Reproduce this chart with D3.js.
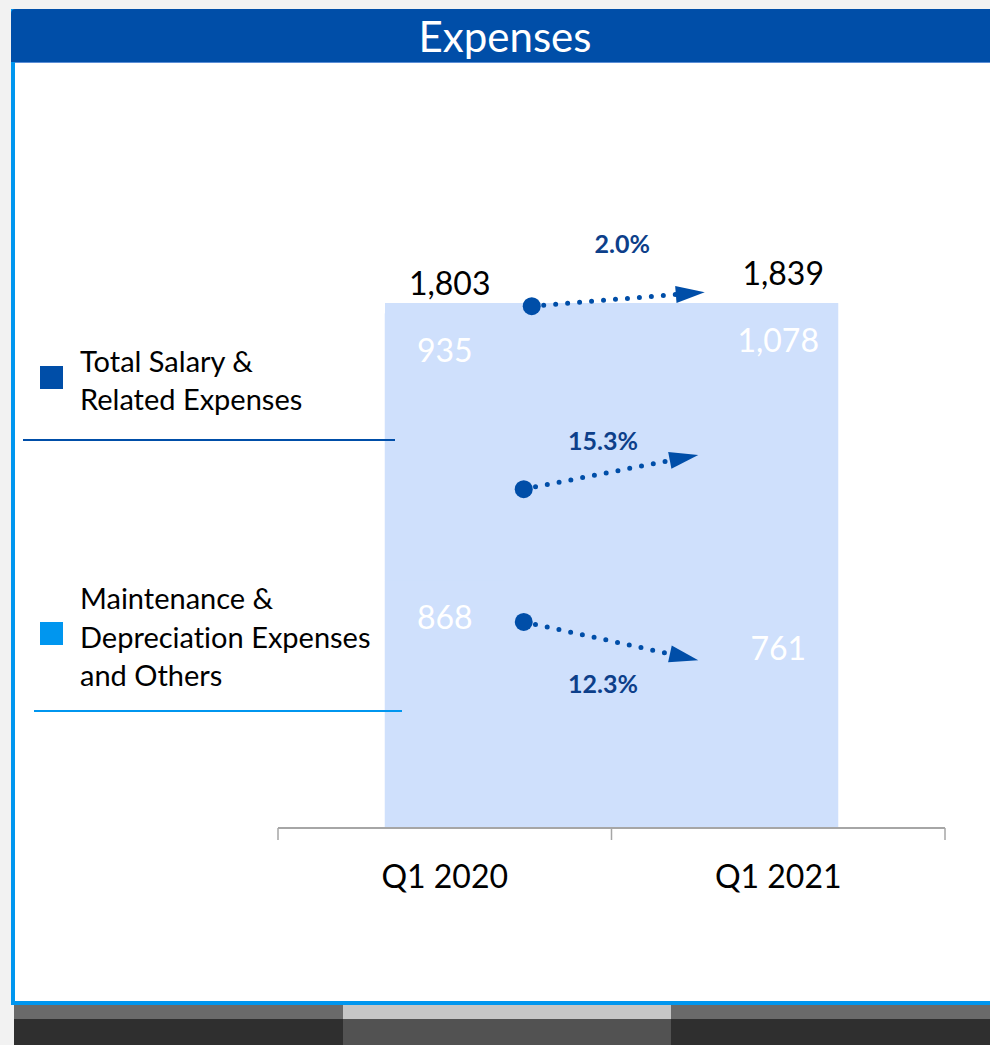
<!DOCTYPE html>
<html>
<head>
<meta charset="utf-8">
<script src="https://cdn.jsdelivr.net/npm/d3@7"></script>
<style>
  body { margin: 0; background: #f2f2f2; }
  svg { display: block; font-family: Lato, "Open Sans", sans-serif; font-variant-ligatures: none; }
</style>
</head>
<body>
<svg width="990" height="1045"></svg>
<script>
// chart values
const categories = ["Q1 2020", "Q1 2021"];
const salary = [935, 1078];
const maintenance = [868, 761];
const totals = [1803, 1839];
const changes = ["2.0%", "15.3%", "12.3%"];
const legendLines = [["Total Salary &", "Related Expenses"], ["Maintenance &", "Depreciation Expenses", "and Others"]];
// arrow ends, in the same units as the values
const arrowFrom = [1828, 1187, 722];
const arrowTo = [1877, 1307, 588];

function main(){
  const svg = d3.select("svg");
  const dark = "#004ea8", light = "#0096ef", fillBar = "#cfe0fc";

  draw_frame(svg, dark, light);

  const [xScale, yScale] = get_scales();
  const bw = xScale.bandwidth();
  const inset = 107;

  // one pale block behind both bars
  svg.append("rect")
    .attr("x", xScale(categories[0]) + inset)
    .attr("y", yScale(d3.max(totals)))
    .attr("width", xScale(categories[1]) + bw - inset - (xScale(categories[0]) + inset))
    .attr("height", yScale(0) - yScale(d3.max(totals)))
    .attr("fill", fillBar);

  const rows = categories.map((c, i) => ({cat: c, maintenance: maintenance[i], salary: salary[i]}));
  const stack = d3.stack().keys(["maintenance", "salary"])(rows);

  const layers = svg.selectAll("g.layer").data(stack).enter().append("g").attr("class", "layer");
  layers.selectAll("rect").data(d => d).enter().append("rect")
    .attr("x", d => xScale(d.data.cat) + bw / 2 - 60)
    .attr("width", 120)
    .attr("y", d => yScale(d[1]))
    .attr("height", d => yScale(d[0]) - yScale(d[1]))
    .attr("fill", fillBar);

  // segment values, white, near the top of each segment
  layers.selectAll("text").data(d => d).enter().append("text")
    .attr("x", d => xScale(d.data.cat) + bw / 2)
    .attr("y", d => yScale(d[1]) + 49)
    .attr("text-anchor", "middle")
    .attr("font-size", 32)
    .attr("fill", "#ffffff")
    .text(d => d3.format(",")(d[1] - d[0]));

  // totals
  svg.selectAll("text.total").data(totals).enter().append("text")
    .attr("class", "total")
    .attr("x", (d, i) => xScale(categories[i]) + bw / 2 + 5)
    .attr("y", d => yScale(d) - 18)
    .attr("text-anchor", "middle")
    .attr("font-size", 32)
    .attr("fill", "#000")
    .text(d => d3.format(",")(d));

  // x axis
  const axis = svg.append("g").attr("transform", `translate(0, ${yScale(0)})`);
  axis.append("line").attr("x1", xScale.range()[0]).attr("x2", xScale.range()[1])
    .attr("stroke", "#a6a6a6").attr("stroke-width", 2);
  const tickXs = [xScale(categories[0]), xScale(categories[1]), xScale(categories[1]) + bw];
  axis.selectAll("line.tick").data(tickXs).enter().append("line")
    .attr("class", "tick").attr("x1", d => d).attr("x2", d => d).attr("y1", 0).attr("y2", 12)
    .attr("stroke", "#a6a6a6").attr("stroke-width", 1.5);
  axis.selectAll("text").data(categories).enter().append("text")
    .attr("x", d => xScale(d) + bw / 2)
    .attr("y", 60)
    .attr("text-anchor", "middle")
    .attr("font-size", 32)
    .attr("fill", "#000")
    .text(d => d);

  draw_arrows(svg, xScale, yScale, dark);
  draw_legend(svg, dark, light);
}

function get_scales(){
  const xScale = d3.scaleBand().domain(categories).range([278, 945]).padding(0);
  const yScale = d3.scaleLinear().domain([0, d3.max(totals)]).range([828, 303]);
  return [xScale, yScale];
}

function draw_frame(svg, dark, light){
  // panel with blue border on left and bottom
  svg.append("rect").attr("x", 11).attr("y", 9).attr("width", 985).attr("height", 996).attr("fill", light);
  svg.append("rect").attr("x", 15).attr("y", 62).attr("width", 980).attr("height", 939).attr("fill", "#fff");
  svg.append("path")
    .attr("d", "M11,62 L11,14 Q11,9 16,9 L990,9 L990,62 Z")
    .attr("fill", dark);
  svg.append("line").attr("x1", 15).attr("x2", 990).attr("y1", 62.5).attr("y2", 62.5)
    .attr("stroke", "#5b8ed6").attr("stroke-width", 1);
  svg.append("text").attr("x", 505).attr("y", 52).attr("text-anchor", "middle")
    .attr("font-size", 42).attr("fill", "#fff").text("Expenses");

  // strip at the bottom of the page
  svg.append("rect").attr("x", 14).attr("y", 1005).attr("width", 976).attr("height", 14).attr("fill", "#6a6a6a");
  svg.append("rect").attr("x", 14).attr("y", 1019).attr("width", 976).attr("height", 26).attr("fill", "#2f2f2f");
  svg.append("rect").attr("x", 343).attr("y", 1005).attr("width", 328).attr("height", 14).attr("fill", "#c6c6c6");
  svg.append("rect").attr("x", 343).attr("y", 1019).attr("width", 328).attr("height", 26).attr("fill", "#525252");
}

function draw_arrows(svg, xScale, yScale, dark){
  const bw = xScale.bandwidth();
  const x0 = [87, 79, 79], x1 = [-73.5, -80, -80];
  const labelDy = [-46, -22, 52];
  const g = svg.append("g");

  changes.forEach((c, i) => {
    const sx = xScale(categories[0]) + bw / 2 + x0[i];
    const sy = yScale(arrowFrom[i]);
    const ex = xScale(categories[1]) + bw / 2 + x1[i];
    const ey = yScale(arrowTo[i]);
    const ang = Math.atan2(ey - sy, ex - sx);
    const headL = 29, headW = 8.5;
    const bx = ex - headL * Math.cos(ang), by = ey - headL * Math.sin(ang);

    g.append("line").attr("x1", sx).attr("y1", sy).attr("x2", bx).attr("y2", by)
      .attr("stroke", dark).attr("stroke-width", 5).attr("stroke-linecap", "round")
      .attr("stroke-dasharray", "0 12");
    g.append("circle").attr("cx", sx).attr("cy", sy).attr("r", 9).attr("fill", dark);
    const px = -Math.sin(ang), py = Math.cos(ang);
    g.append("polygon")
      .attr("points", [[ex, ey], [bx + px * headW, by + py * headW], [bx - px * headW, by - py * headW]].map(p => p.join(",")).join(" "))
      .attr("fill", dark);

    g.append("text")
      .attr("x", (sx + ex) / 2 + 4 - (i > 0 ? 12 : 0))
      .attr("y", (sy + ey) / 2 + labelDy[i])
      .attr("text-anchor", "middle")
      .attr("font-size", 25).attr("font-weight", "bold")
      .attr("fill", "#0d3f8a")
      .text(c);
  });
}

function draw_legend(svg, dark, light){
  const colors = [dark, light];
  const top = [371.5, 609];
  const squareY = [366, 622];
  const rule = [[23, 395, 440], [34, 402, 711]];

  legendLines.forEach((lines, i) => {
    svg.append("rect").attr("x", 40).attr("y", squareY[i]).attr("width", 23).attr("height", 23).attr("fill", colors[i]);
    const t = svg.append("text").attr("x", 80).attr("y", top[i]).attr("font-size", 29).attr("fill", "#000");
    lines.forEach((l, j) => t.append("tspan").attr("x", 80).attr("dy", j ? 38.5 : 0).text(l));
    svg.append("line").attr("x1", rule[i][0]).attr("x2", rule[i][1]).attr("y1", rule[i][2]).attr("y2", rule[i][2])
      .attr("stroke", colors[i]).attr("stroke-width", 2);
  });
}

main();
</script>
</body>
</html>
